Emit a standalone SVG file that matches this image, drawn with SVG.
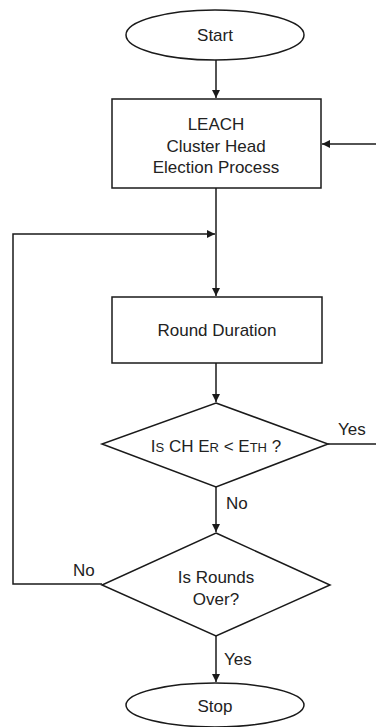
<svg xmlns="http://www.w3.org/2000/svg" width="376" height="727" viewBox="0 0 376 727">
<style>
.shape{fill:#fff;stroke:#1a1a1a;stroke-width:1.5}
.line{fill:none;stroke:#1a1a1a;stroke-width:1.5}
text{font-family:"Liberation Sans",Arial,sans-serif;font-size:17px;fill:#222;text-anchor:middle}
.lbl{text-anchor:start}
</style>
<defs>
<marker id="arr" viewBox="0 0 10 10" refX="10" refY="5" markerWidth="8" markerHeight="8" markerUnits="userSpaceOnUse" orient="auto">
<path d="M0,0 L10,5 L0,10 z" fill="#1a1a1a"/>
</marker>
</defs>
<rect width="376" height="727" fill="#fff"/>
<g id="connectors">
<line class="line" x1="216" y1="60" x2="216" y2="98" marker-end="url(#arr)"/>
<line class="line" x1="376" y1="144" x2="322" y2="144" marker-end="url(#arr)"/>
<line class="line" x1="216" y1="188" x2="216" y2="296" marker-end="url(#arr)"/>
<polyline class="line" points="102,584 13,584 13,234 215,234" marker-end="url(#arr)"/>
<line class="line" x1="216" y1="363" x2="216" y2="402" marker-end="url(#arr)"/>
<line class="line" x1="328" y1="444" x2="376" y2="444"/>
<line class="line" x1="216" y1="487" x2="216" y2="532" marker-end="url(#arr)"/>
<line class="line" x1="216" y1="636" x2="216" y2="682" marker-end="url(#arr)"/>
<text class="lbl" x="338" y="435">Yes</text>
<text class="lbl" x="226" y="509">No</text>
<text class="lbl" x="73" y="576">No</text>
<text class="lbl" x="224" y="665">Yes</text>
</g>
<g id="start">
<ellipse class="shape" cx="215" cy="35" rx="89" ry="25"/>
<text x="215" y="41">Start</text>
</g>
<g id="leach">
<rect class="shape" x="112" y="99" width="209" height="89"/>
<text x="216" y="130">LEACH</text>
<text x="216" y="152">Cluster Head</text>
<text x="216" y="173">Election Process</text>
</g>
<g id="round">
<rect class="shape" x="112" y="297" width="210" height="66"/>
<text x="217" y="336">Round Duration</text>
</g>
<g id="check">
<polygon class="shape" points="216,403 328,444 216,487 102,444"/>
<text x="216" y="452">I<tspan font-size="13">S</tspan> CH E<tspan font-size="13">R</tspan> &lt; E<tspan font-size="13">TH</tspan> ?</text>
</g>
<g id="rounds">
<polygon class="shape" points="216,533 330,585 216,636 102,585"/>
<text x="216" y="583">Is Rounds</text>
<text x="216" y="605">Over?</text>
</g>
<g id="stop">
<ellipse class="shape" cx="215" cy="705" rx="89" ry="22"/>
<text x="215" y="712">Stop</text>
</g>
</svg>
